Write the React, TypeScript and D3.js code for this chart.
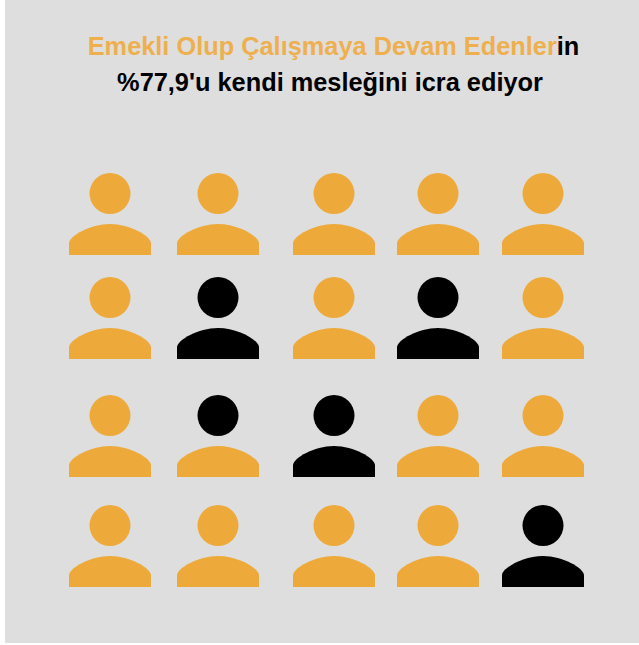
import React from 'react';
import * as d3 from 'd3';

const W = 639;
const H = 645;

const titleOrange = 'Emekli Olup Çalışmaya Devam Edenler';
const titleBlack = 'in';
const titleLine2 = "%77,9'u kendi mesleğini icra ediyor";

// 1 = black, 0 = orange
const headsRow1 = [0, 0, 0, 0, 0];
const headsRow2 = [0, 1, 0, 1, 0];
const headsRow3 = [0, 1, 1, 0, 0];
const headsRow4 = [0, 0, 0, 0, 1];
const heads = [headsRow1, headsRow2, headsRow3, headsRow4];

// the third row's second person has a black head on an orange body
const bodiesRow1 = [0, 0, 0, 0, 0];
const bodiesRow2 = [0, 1, 0, 1, 0];
const bodiesRow3 = [0, 0, 1, 0, 0];
const bodiesRow4 = [0, 0, 0, 0, 1];
const bodies = [bodiesRow1, bodiesRow2, bodiesRow3, bodiesRow4];

const columns = [0, 1, 2, 3, 4];
const columnCentres = [110, 218, 334, 438, 543];
const rowBaselines = [255, 359, 477, 587];

const ORANGE = '#edaa3a';
const TITLE_ORANGE = '#eeb04e';
const BLACK = '#000000';
const BG = '#dedede';

const x = d3.scaleOrdinal<number, number>().domain(columns).range(columnCentres);
const y = d3.scaleOrdinal<number, number>().domain(heads.map((_, i) => i)).range(rowBaselines);

// body of the person, origin at bottom centre
function bodyPath() {
    const p = d3.path();
    p.moveTo(-41, 0);
    p.lineTo(-41, -12);
    p.bezierCurveTo(-40.5, -19, -20, -31, 0, -31);
    p.bezierCurveTo(20, -31, 40.5, -19, 41, -12);
    p.lineTo(41, 0);
    p.closePath();
    return p.toString();
}

const App: React.FC = () => {
    return (
        <svg width={W} height={H} style={{position: 'fixed', left: 0, top: 0}}>
            <rect width={W} height={H} fill="#ffffff" />
            <rect x={5} y={0} width={W - 5} height={H - 2} fill={BG} />
            <text x={333.5} y={54.5} textAnchor="middle" fontFamily="Liberation Sans" fontWeight="bold" fontSize={25.35}>
                <tspan fill={TITLE_ORANGE}>{titleOrange}</tspan>
                <tspan fill={BLACK}>{titleBlack}</tspan>
            </text>
            <text x={330} y={90.5} textAnchor="middle" fontFamily="Liberation Sans" fontWeight="bold" fontSize={25.35} fill={BLACK}>
                {titleLine2}
            </text>
            {heads.map((row, r) => row.map((v, c) => (
                <g key={`${r}-${c}`} transform={`translate(${x(c)},${y(r)})`}>
                    <circle cx={0} cy={-61.5} r={20.5} fill={v ? BLACK : ORANGE} />
                    <path d={bodyPath()} fill={bodies[r][c] ? BLACK : ORANGE} />
                </g>
            )))}
        </svg>
    );
};

export default App;
